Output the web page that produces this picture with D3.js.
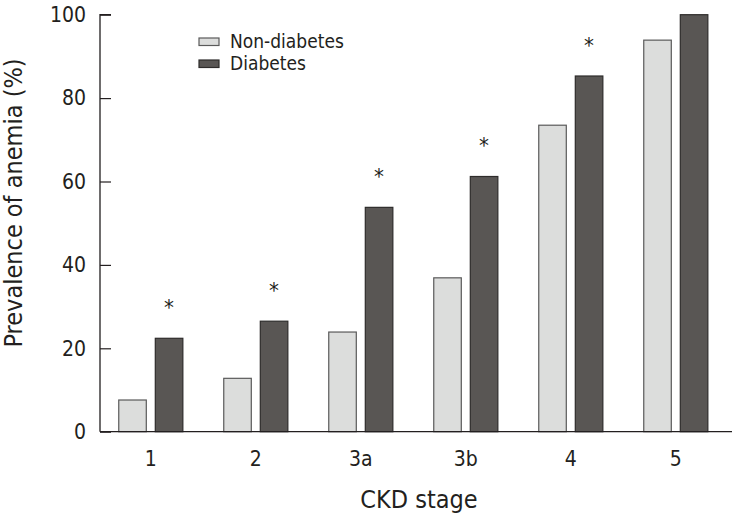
<!DOCTYPE html>
<html><head><meta charset="utf-8">
<script src="https://cdn.jsdelivr.net/npm/d3@7"></script>
<style>
body{margin:0;background:#fff;}
text{font-family:"Liberation Sans Narrow","DejaVu Sans Condensed","Liberation Sans",sans-serif;fill:#231f20;}
</style></head>
<body>
<svg id="chart" width="732" height="518"></svg>
<script>
const categories = ["1","2","3a","3b","4","5"];
const series = ["Non-diabetes","Diabetes"];
const nonDiabetes = [7.6, 12.8, 23.9, 36.9, 73.5, 93.9];
const diabetes = [22.4, 26.5, 53.8, 61.2, 85.3, 100];
const significant = [true, true, true, true, true, false];
const yTicks = [0, 20, 40, 60, 80, 100];

const colors = {"Non-diabetes":"#dcdddc","Diabetes":"#595654"};
const strokes = {"Non-diabetes":"#5a5a5a","Diabetes":"#2e2c2b"};

const svg = d3.select("#chart");
const x0 = 98.3, x1 = 728.3, yBottom = 431.7, yTop = 14.7;

const x = d3.scaleBand().domain(categories).range([x0, x1]).paddingInner(0.38).paddingOuter(0.19);
const xs = d3.scaleBand().domain(series).range([0, x.bandwidth()]).paddingInner(0.219);
const y = d3.scaleLinear().domain([0, 100]).range([yBottom, yTop]);

const data = categories.map((c, i) => ({cat: c, vals: [
  {s: "Non-diabetes", v: nonDiabetes[i]},
  {s: "Diabetes", v: diabetes[i]}
], sig: significant[i], dv: diabetes[i]}));

// bars
const g = svg.append("g").selectAll("g").data(data).join("g")
  .attr("transform", d => `translate(${x(d.cat)},0)`);
g.selectAll("rect").data(d => d.vals).join("rect")
  .attr("x", d => xs(d.s) + 0.5)
  .attr("width", xs.bandwidth() - 1)
  .attr("y", d => y(d.v))
  .attr("height", d => yBottom - y(d.v))
  .attr("fill", d => colors[d.s])
  .attr("stroke", d => strokes[d.s])
  .attr("stroke-width", 1.2);

// asterisks
svg.append("g").selectAll("text").data(data.filter(d => d.sig)).join("text")
  .attr("x", d => x(d.cat) + xs("Diabetes") + xs.bandwidth() / 2)
  .attr("y", d => y(d.dv) - 23)
  .attr("text-anchor", "middle")
  .attr("font-size", 22)
  .text("*");

// y axis
const yAxis = d3.axisLeft(y).tickValues(yTicks).tickSize(-11).tickPadding(24);
const ya = svg.append("g").attr("transform", `translate(100,0)`).call(yAxis);
ya.select(".domain").attr("d", `M11,${yTop}H0V${yBottom}`).attr("stroke", "#231f20").attr("stroke-width", 1.3);
ya.selectAll(".tick line").attr("stroke", "#231f20").attr("stroke-width", 1.2);
ya.selectAll(".tick text").attr("font-size", 21).attr("font-family", null).attr("fill", "#231f20").attr("x", -14);

// x axis
const xAxis = d3.axisBottom(x).tickSize(0).tickPadding(19);
const xa = svg.append("g").attr("transform", `translate(0,${yBottom})`).call(xAxis);
xa.select(".domain").attr("d", `M100,0H732`).attr("stroke", "#231f20").attr("stroke-width", 1.3);
xa.selectAll(".tick text").attr("font-size", 21).attr("font-family", null).attr("fill", "#231f20");

// axis titles
svg.append("text").attr("x", 419).attr("y", 508).attr("text-anchor", "middle")
  .attr("font-size", 25).text("CKD stage");
svg.append("text").attr("transform", "translate(22,203) rotate(-90)").attr("text-anchor", "middle")
  .attr("font-size", 25).text("Prevalence of anemia (%)");

// legend
const leg = svg.append("g").selectAll("g").data(series).join("g")
  .attr("transform", (d, i) => `translate(199,${38 + i * 22})`);
leg.append("rect").attr("width", 20).attr("height", 7.5)
  .attr("fill", d => colors[d]).attr("stroke", d => strokes[d]).attr("stroke-width", 1.2);
leg.append("text").attr("x", 31).attr("y", 9.5).attr("font-size", 19).text(d => d);
</script>
</body></html>
